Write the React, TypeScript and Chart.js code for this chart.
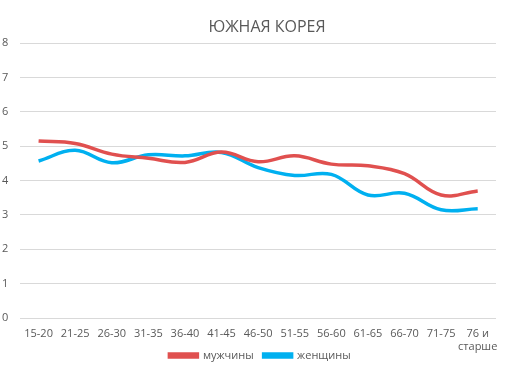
import React, { useEffect, useRef } from "react";
import { Chart, registerables } from "chart.js";

Chart.register(...registerables);

const categories: (string | string[])[] = [
  "15-20", "21-25", "26-30", "31-35", "36-40", "41-45", "46-50",
  "51-55", "56-60", "61-65", "66-70", "71-75", ["76 и", "старше"],
];
const men = [5.15, 5.08, 4.77, 4.65, 4.53, 4.83, 4.55, 4.72, 4.48, 4.43, 4.2, 3.58, 3.7];
const women = [4.57, 4.88, 4.52, 4.75, 4.72, 4.82, 4.38, 4.15, 4.18, 3.58, 3.63, 3.15, 3.18];
const yTicks = [0, 1, 2, 3, 4, 5, 6, 7, 8];

const TEXT = "#595959";
const FONT = "'Open Sans', 'Noto Sans', sans-serif";

// layout tweaks: x labels may overlap the legend band without clipping,
// and title / legend are centred a little right of the plot centre, as in the reference
const layoutTweaks = {
  id: "layoutTweaks",
  afterLayout(chart: any) {
    const x = chart.scales.x;
    x.bottom = chart.height;
    x.height = x.bottom - x.top;
    const shift = (box: any, dx: number) => {
      if (!box) return;
      box.left += dx;
      box.right += dx;
    };
    shift(chart.titleBlock, 18);
    shift(chart.legend, 11);
  },
};

export default function App() {
  const ref = useRef<HTMLCanvasElement>(null);
  useEffect(() => {
    if (!ref.current) return;
    const chart = new Chart(ref.current, {
      type: "line",
      data: {
        labels: categories,
        datasets: [
          {
            label: "мужчины",
            data: men,
            borderColor: "#E0504F",
            backgroundColor: "#E0504F",
            borderWidth: 3.5,
            pointRadius: 0,
            tension: 0.4,
          },
          {
            label: "женщины",
            data: women,
            borderColor: "#00B0F0",
            backgroundColor: "#00B0F0",
            borderWidth: 3.5,
            pointRadius: 0,
            tension: 0.4,
          },
        ],
      },
      plugins: [layoutTweaks],
      options: {
        responsive: false,
        animation: false,
        layout: { padding: { left: 2, right: 21, top: 18, bottom: 4 } },
        plugins: {
          title: {
            display: true,
            text: "ЮЖНАЯ КОРЕЯ",
            color: TEXT,
            font: { family: FONT, size: 16, weight: "normal" },
            padding: { top: 0, bottom: 6 },
          },
          legend: {
            position: "bottom",
            labels: {
              color: TEXT,
              font: { family: FONT, size: 11 },
              boxWidth: 28,
              boxHeight: 3,
              padding: 10,
            },
          },
          tooltip: { enabled: false },
        },
        scales: {
          x: {
            offset: true,
            grid: { display: false },
            border: { display: false },
            afterFit: (axis: any) => {
              axis.height = 22;
            },
            ticks: {
              color: TEXT,
              font: { family: FONT, size: 11 },
              maxRotation: 0,
              autoSkip: false,
              padding: 1,
            },
          },
          y: {
            min: 0,
            max: 8,
            afterBuildTicks: (axis: any) => {
              axis.ticks = yTicks.map((v) => ({ value: v }));
            },
            grid: { color: "#D9D9D9", lineWidth: 1, drawTicks: false },
            border: { display: false },
            ticks: {
              color: TEXT,
              font: { family: FONT, size: 11 },
              padding: 6,
              crossAlign: "far",
            },
          },
        },
      },
    });
    return () => chart.destroy();
  }, []);
  return (
    <div style={{ position: "fixed", left: 0, top: 0, width: 517, height: 375, background: "#fff" }}>
      <canvas ref={ref} width={517} height={375} />
    </div>
  );
}
